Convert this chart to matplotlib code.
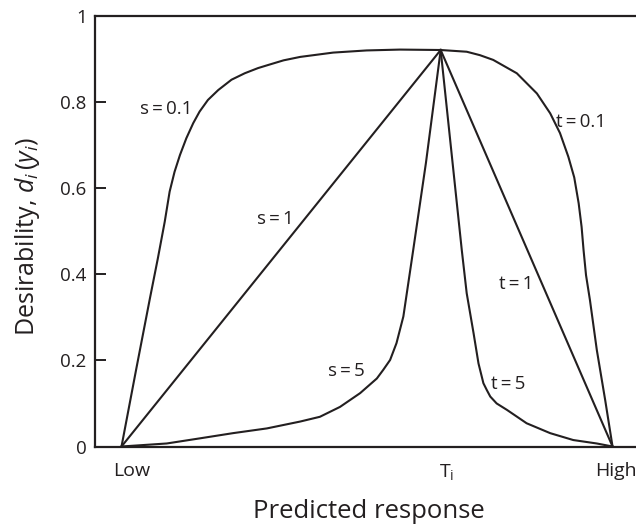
import numpy as np
import matplotlib
matplotlib.use("Agg")
from matplotlib import pyplot as plt

plt.rcParams['font.family'] = ['Open Sans', 'DejaVu Sans']
plt.rcParams['mathtext.fontset'] = 'custom'
plt.rcParams['mathtext.rm'] = 'Open Sans'
plt.rcParams['mathtext.it'] = 'Open Sans:italic'

INK = '#231f20'

# response axis: Low = 0, target T_i, High = 1
target = 0.650
peak = 0.921

# left side (Low -> T_i)
s01_x = [0, 0.030, 0.058, 0.074, 0.088, 0.098, 0.108, 0.119, 0.132, 0.146, 0.159, 0.176, 0.197,
         0.224, 0.251, 0.278, 0.298, 0.330, 0.364, 0.431, 0.499, 0.567, 0.650]
s01_y = [0, 0.180, 0.345, 0.437, 0.522, 0.592, 0.638, 0.677, 0.716, 0.751, 0.778, 0.805, 0.828,
         0.852, 0.867, 0.879, 0.886, 0.897, 0.905, 0.915, 0.920, 0.922, 0.921]
s1_x = [0, target]
s1_y = [0, peak]
s5_x = [0, 0.092, 0.160, 0.227, 0.296, 0.364, 0.404, 0.445, 0.486, 0.520, 0.533, 0.547, 0.560,
        0.574, 0.584, 0.594, 0.620, 0.650]
s5_y = [0, 0.007, 0.019, 0.031, 0.042, 0.058, 0.069, 0.092, 0.124, 0.158, 0.178, 0.201, 0.240,
        0.302, 0.379, 0.456, 0.659, 0.921]

# right side (T_i -> High)
t01_x = [0.650, 0.703, 0.730, 0.757, 0.805, 0.846, 0.873, 0.893, 0.910, 0.922, 0.931, 0.937,
         0.941, 0.946, 0.954, 0.968, 0.985, 1.0]
t01_y = [0.921, 0.917, 0.909, 0.898, 0.867, 0.820, 0.774, 0.728, 0.673, 0.625, 0.565, 0.510,
         0.456, 0.398, 0.340, 0.224, 0.108, 0]
t1_x = [target, 1.0]
t1_y = [peak, 0]
t5_x = [0.650, 0.693, 0.703, 0.717, 0.727, 0.737, 0.744, 0.751, 0.764, 0.785, 0.825, 0.873,
        0.920, 0.968, 1.0]
t5_y = [0.921, 0.456, 0.356, 0.263, 0.193, 0.147, 0.131, 0.116, 0.100, 0.085, 0.054, 0.031,
        0.015, 0.007, 0]

curve_labels = ['s\u2009=\u20090.1', 's\u2009=\u20091', 's\u2009=\u20095',
                't\u2009=\u20090.1', 't\u2009=\u20091', 't\u2009=\u20095']
label_x = [0.091, 0.313, 0.457, 0.936, 0.803, 0.787]
label_y = [0.785, 0.529, 0.176, 0.753, 0.377, 0.145]

x_ticks = [0, target, 1]
x_ticklabels = ['Low', r'$\mathrm{T_i}$', 'High']
y_ticks = [0, 0.2, 0.4, 0.6, 0.8, 1]
y_ticklabels = ['0', '0.2', '0.4', '0.6', '0.8', '1']

fig = plt.figure(figsize=(6.36, 5.24), dpi=100)
ax = fig.add_axes([95 / 636, 77.5 / 524, 547 / 636, 430.5 / 524])

for xs, ys in [(s01_x, s01_y), (s1_x, s1_y), (s5_x, s5_y),
               (t01_x, t01_y), (t1_x, t1_y), (t5_x, t5_y)]:
    ax.plot(xs, ys, color=INK, lw=1.5, solid_joinstyle='round', clip_on=False)

for txt, lx, ly in zip(curve_labels, label_x, label_y):
    ax.text(lx, ly, txt, fontsize=13.5, color=INK, ha='center', va='center')

ax.set_xlim(-0.054, 1.06)
ax.set_ylim(0, 1)

ax.set_yticks(y_ticks)
ax.set_yticklabels(y_ticklabels)
ax.tick_params(axis='y', direction='in', length=8, width=1.4, color=INK,
               labelsize=13.5, pad=6, labelcolor=INK)
ax.set_xticks([])

# category labels under the axis, nudged right like the hand-set originals
offsets = [10, 6, 3.5]
for xv, lab, dx in zip(x_ticks, x_ticklabels, offsets):
    ax.annotate(lab, xy=(xv, 0), xycoords=('data', 'axes fraction'),
                xytext=(dx * 0.72, -11), textcoords='offset points',
                ha='center', va='top', fontsize=14, color=INK)

ax.set_xlabel('Predicted response', fontsize=18.5, color=INK)
ax.xaxis.set_label_coords(0.5, -0.123)
ax.set_ylabel(r'Desirability, $d_i\,(y_i)$', fontsize=18, color=INK)
ax.yaxis.set_label_coords(-0.096, 0.487)

for side in ['left', 'bottom', 'top', 'right']:
    ax.spines[side].set_linewidth(1.6)
    ax.spines[side].set_color(INK)

fig.savefig('out.png', dpi=100)
